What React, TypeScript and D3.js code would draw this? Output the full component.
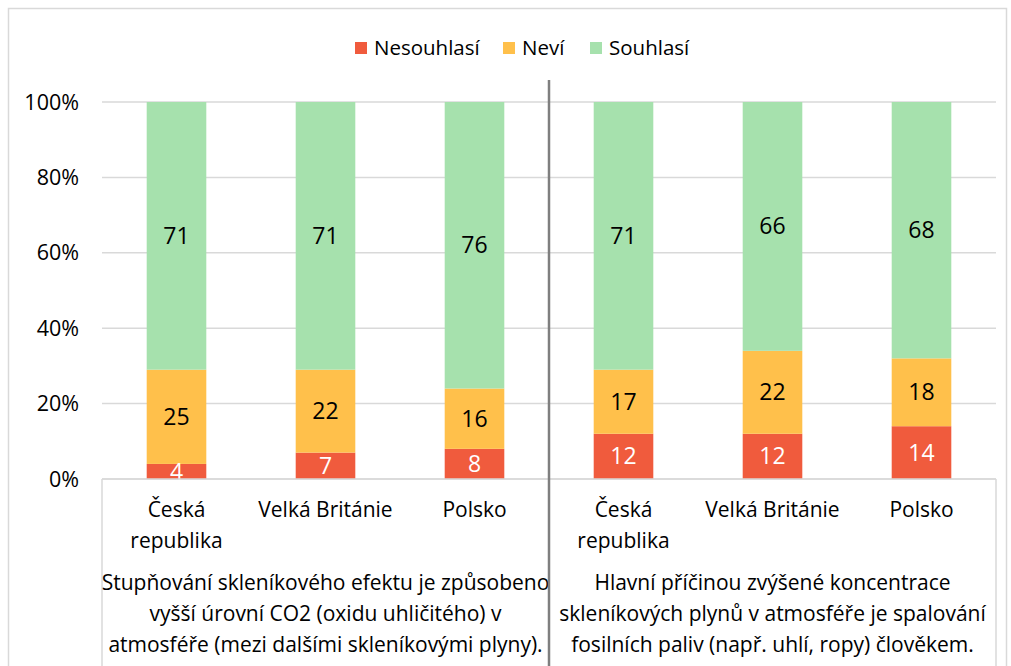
import React, { useEffect, useRef } from "react";
import * as d3 from "d3";

const seriesNames = ["Nesouhlasí", "Neví", "Souhlasí"];
const seriesColors = ["#F05B3D", "#FFC04B", "#A6E1AD"];
const labelColors = ["#ffffff", "#000000", "#000000"];

const countryLines = [["Česká", "republika"], ["Velká Británie"], ["Polsko"]];

const groupTitles = [
  [
    "Stupňování skleníkového efektu je způsobeno",
    "vyšší úrovní CO2 (oxidu uhličitého) v",
    "atmosféře (mezi dalšími skleníkovými plyny).",
  ],
  [
    "Hlavní příčinou zvýšené koncentrace",
    "skleníkových plynů v atmosféře je spalování",
    "fosilních paliv (např. uhlí, ropy) člověkem.",
  ],
];

// values per group, per country: [Nesouhlasí, Neví, Souhlasí]
const group1Values = [
  [4, 25, 71],
  [7, 22, 71],
  [8, 16, 76],
];
const group2Values = [
  [12, 17, 71],
  [12, 22, 66],
  [14, 18, 68],
];

const yTicks = [0, 20, 40, 60, 80, 100];

const App = () => {
  const svgRef = useRef(null);
  const svgWidth = 1011;
  const svgHeight = 666;
  const margin = { top: 102, right: 15, bottom: 187, left: 102 };
  const font = "'Open Sans', Lato, sans-serif";

  useEffect(() => {
    const innerWidth = svgWidth - margin.left - margin.right;
    const innerHeight = svgHeight - margin.top - margin.bottom;

    const svg = d3
      .select(svgRef.current)
      .attr("width", svgWidth)
      .attr("height", svgHeight);

    svg.selectAll("*").remove();

    svg
      .append("rect")
      .attr("x", 8.5)
      .attr("y", 8.5)
      .attr("width", svgWidth - 13)
      .attr("height", svgHeight)
      .attr("fill", "white")
      .attr("stroke", "#d9d9d9")
      .attr("stroke-width", 1.5);

    const data = [group1Values, group2Values].flatMap((vals, gi) =>
      vals.map((v, ci) => ({ key: `${gi}-${ci}`, group: gi, country: ci, values: v }))
    );

    const xScale = d3
      .scaleBand()
      .domain(data.map((d) => d.key))
      .range([0, innerWidth])
      .paddingInner(0.6)
      .paddingOuter(0.3);

    const yScale = d3.scaleLinear().domain([0, 100]).range([innerHeight, 0]);

    const g = svg
      .append("g")
      .attr("transform", `translate(${margin.left},${margin.top})`);

    // gridlines
    g.selectAll(".grid")
      .data(yTicks)
      .enter()
      .append("line")
      .attr("x1", 0)
      .attr("x2", innerWidth)
      .attr("y1", (d) => yScale(d))
      .attr("y2", (d) => yScale(d))
      .attr("stroke", "#d9d9d9")
      .attr("stroke-width", 1.5);

    g.selectAll(".ytick")
      .data(yTicks)
      .enter()
      .append("text")
      .attr("x", -23)
      .attr("y", (d) => yScale(d))
      .attr("dy", "0.35em")
      .attr("text-anchor", "end")
      .attr("font-family", font)
      .attr("font-size", 21.5)
      .attr("fill", "#000")
      .text((d) => `${d}%`);

    // stacked bars
    const stacked = data.flatMap((d) => {
      let acc = 0;
      return d.values.map((v, si) => {
        const seg = { key: d.key, si, v, y0: acc, y1: acc + v };
        acc += v;
        return seg;
      });
    });

    g.selectAll(".seg")
      .data(stacked)
      .enter()
      .append("rect")
      .attr("x", (d) => xScale(d.key))
      .attr("width", xScale.bandwidth())
      .attr("y", (d) => yScale(d.y1))
      .attr("height", (d) => yScale(d.y0) - yScale(d.y1))
      .attr("fill", (d) => seriesColors[d.si]);

    g.selectAll(".lbl")
      .data(stacked)
      .enter()
      .append("text")
      .attr("x", (d) => xScale(d.key) + xScale.bandwidth() / 2)
      .attr("y", (d) => yScale((d.y0 + d.y1) / 2))
      .attr("dy", "0.35em")
      .attr("text-anchor", "middle")
      .attr("font-family", font)
      .attr("font-size", 23)
      .attr("fill", (d) => labelColors[d.si])
      .text((d) => d.v);

    // category table lines
    g.append("line")
      .attr("x1", 0)
      .attr("x2", innerWidth)
      .attr("y1", innerHeight)
      .attr("y2", innerHeight)
      .attr("stroke", "#d9d9d9")
      .attr("stroke-width", 1.5);
    [0, innerWidth].forEach((x) => {
      g.append("line")
        .attr("x1", x)
        .attr("x2", x)
        .attr("y1", innerHeight)
        .attr("y2", svgHeight)
        .attr("stroke", "#d9d9d9")
        .attr("stroke-width", 1.5);
    });

    // category labels
    data.forEach((d) => {
      const cx = xScale(d.key) + xScale.bandwidth() / 2;
      countryLines[d.country].forEach((line, li) => {
        g.append("text")
          .attr("x", cx)
          .attr("y", innerHeight + 38 + li * 31)
          .attr("text-anchor", "middle")
          .attr("font-family", font)
          .attr("font-size", 21)
          .attr("fill", "#000")
          .text(line);
      });
    });

    // group titles
    const divX = (xScale(data[2].key) + xScale.bandwidth() + xScale(data[3].key)) / 2;
    const groupCenters = [divX / 2, (divX + innerWidth) / 2];
    groupTitles.forEach((lines, gi) => {
      lines.forEach((line, li) => {
        g.append("text")
          .attr("x", groupCenters[gi])
          .attr("y", innerHeight + 111 + li * 31)
          .attr("text-anchor", "middle")
          .attr("font-family", font)
          .attr("font-size", 21)
          .attr("fill", "#000")
          .text(line);
      });
    });

    // divider between groups
    g.append("line")
      .attr("x1", divX)
      .attr("x2", divX)
      .attr("y1", -22)
      .attr("y2", svgHeight)
      .attr("stroke", "#7f7f7f")
      .attr("stroke-width", 2.5);

    // legend
    const legendX = [355, 503, 590];
    const legend = svg.append("g");
    seriesNames.forEach((name, i) => {
      legend
        .append("rect")
        .attr("x", legendX[i])
        .attr("y", 42)
        .attr("width", 12)
        .attr("height", 12)
        .attr("fill", seriesColors[i]);
      legend
        .append("text")
        .attr("x", legendX[i] + 19)
        .attr("y", 48)
        .attr("dy", "0.35em")
        .attr("font-family", font)
        .attr("font-size", 20.5)
        .attr("fill", "#000")
        .text(name);
    });
  }, []);

  return (
    <svg
      ref={svgRef}
      style={{ position: "absolute", left: 0, top: 0, display: "block" }}
    ></svg>
  );
};

export default App;
